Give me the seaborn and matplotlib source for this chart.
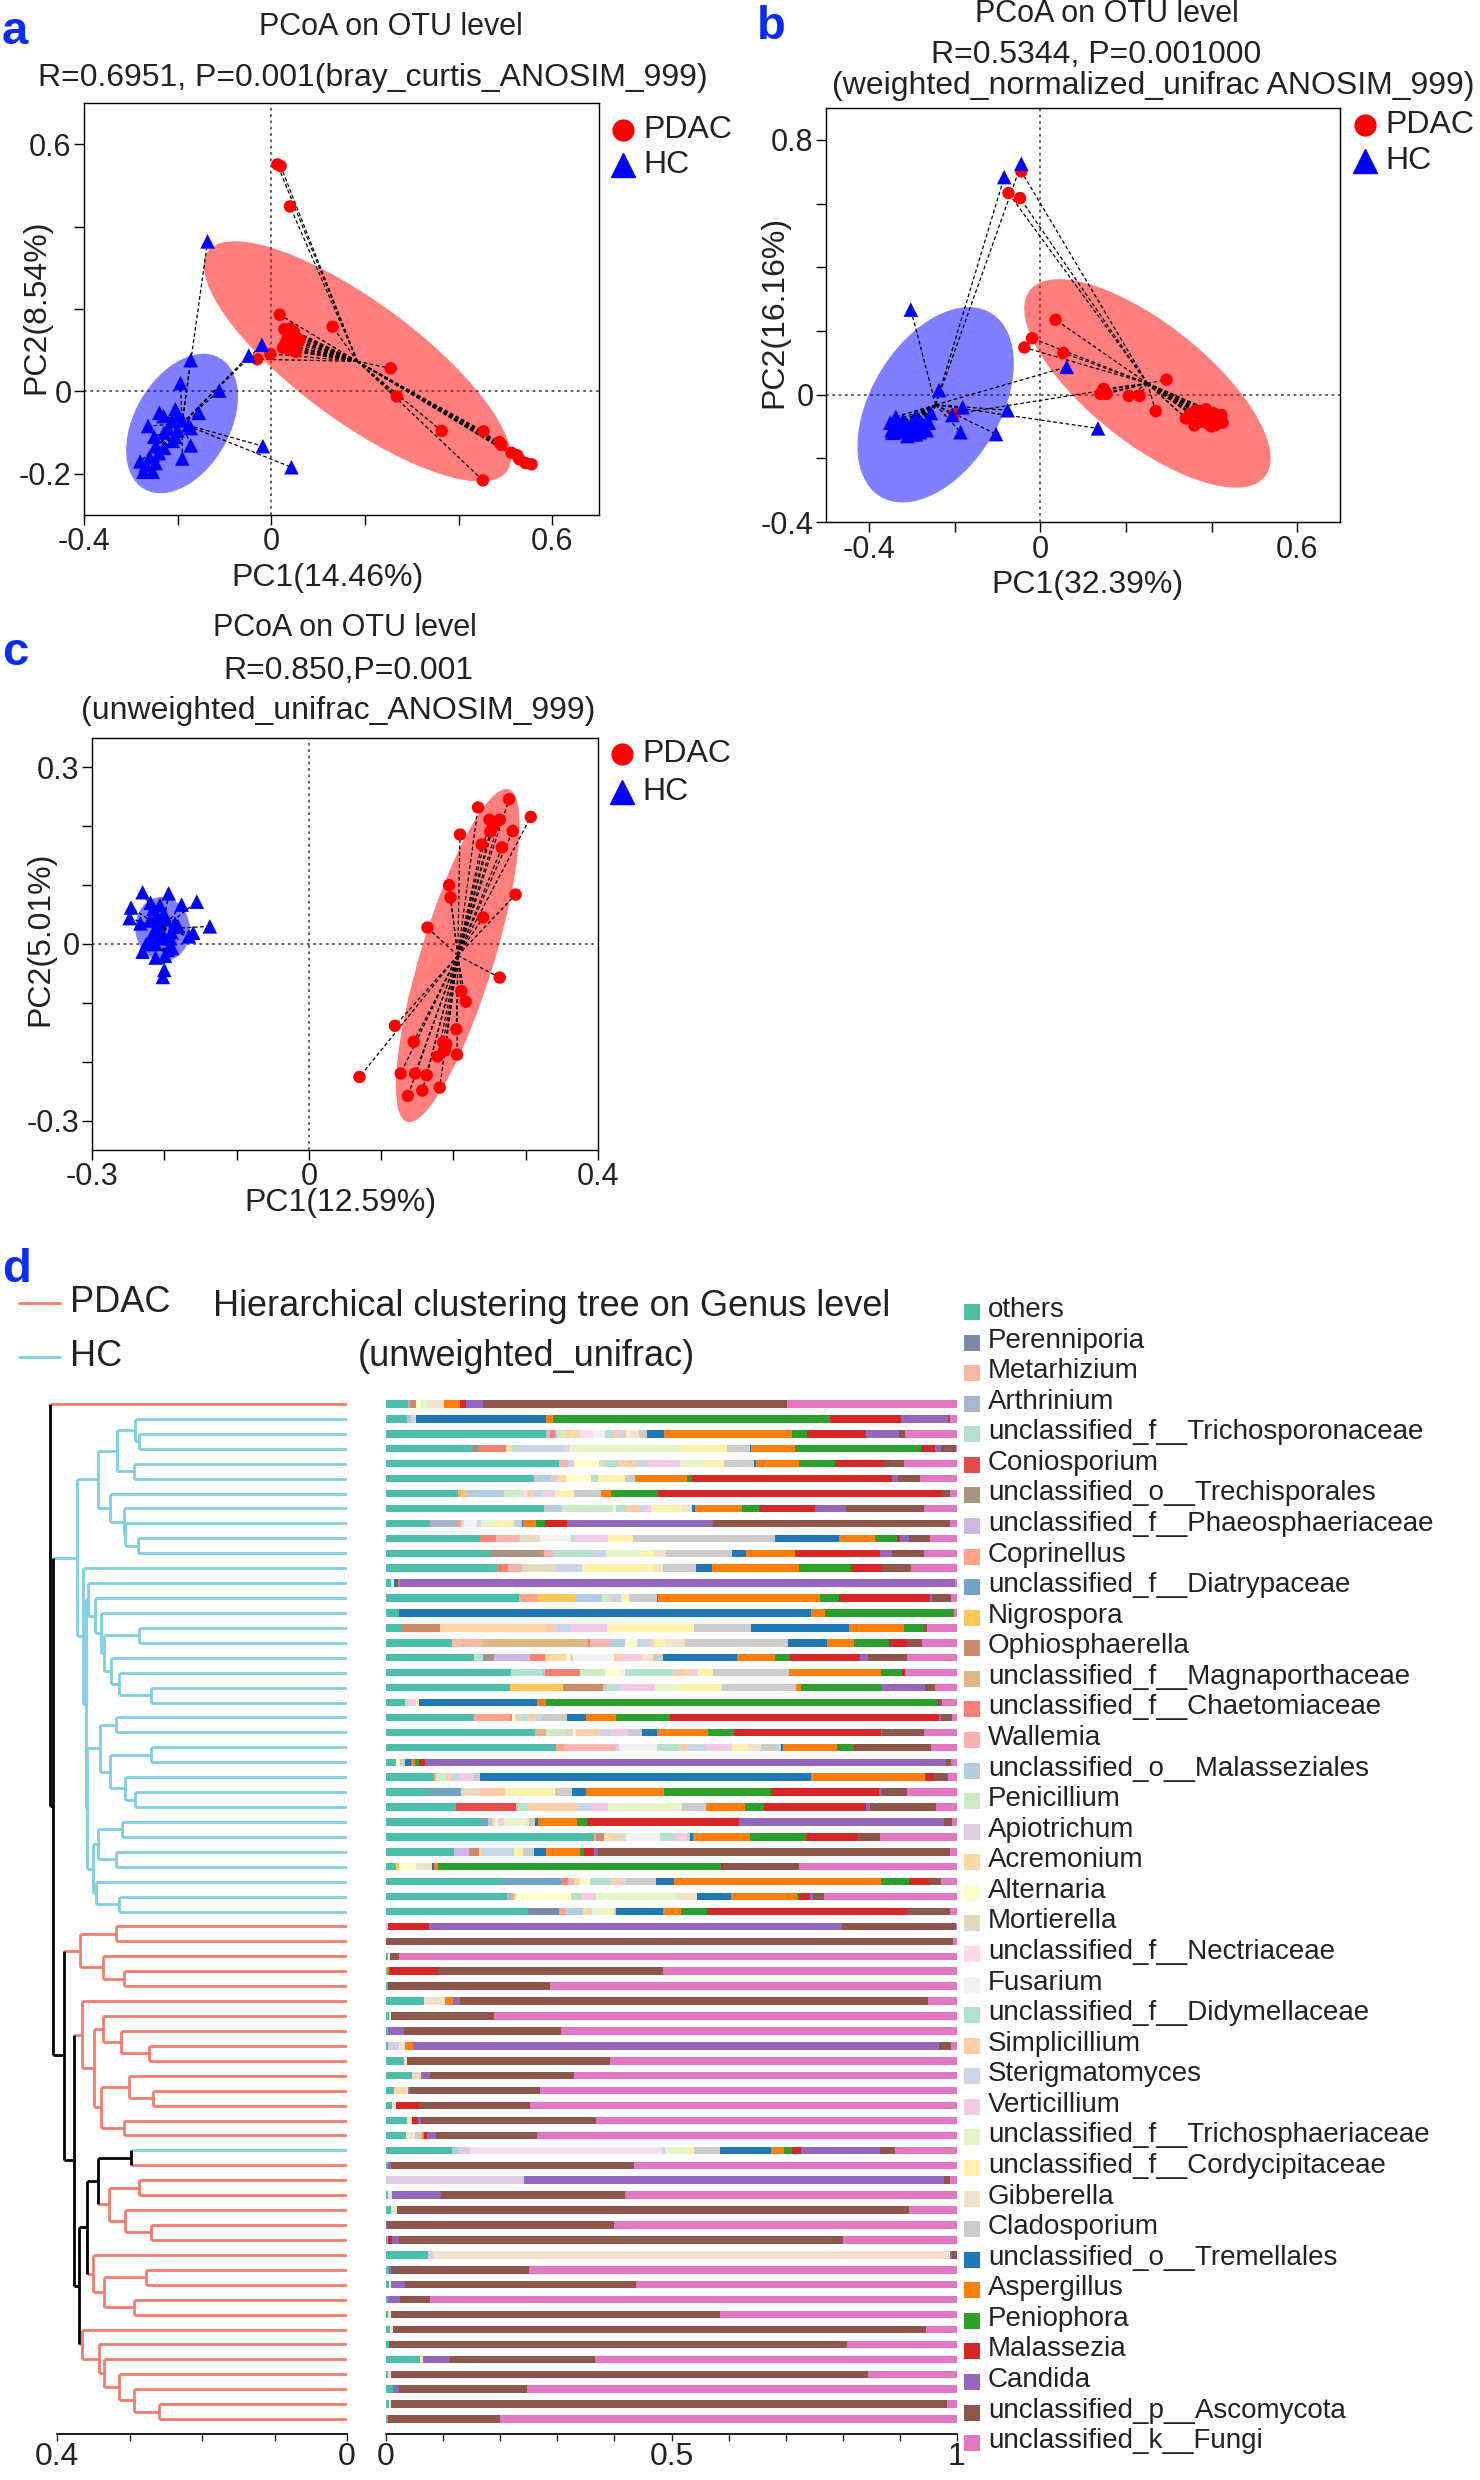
import numpy as np
import pandas as pd
import matplotlib
matplotlib.use("Agg")
import matplotlib.pyplot as plt
import seaborn as sns
from matplotlib.patches import Ellipse, Rectangle
from matplotlib.lines import Line2D

# ---------------- data: PCoA coordinates ----------------
a_pdac = [(0.013, 0.551), (0.02, 0.547), (0.04, 0.449), (0.018, 0.186), (0.131, 0.157),
          (0.028, 0.151), (0.04, 0.152), (0.047, 0.136), (0.033, 0.122), (0.055, 0.12),
          (0.025, 0.106), (0.04, 0.102), (0.053, 0.096), (-0.002, 0.091), (-0.03, 0.078),
          (0.255, 0.056), (0.268, -0.012), (0.364, -0.096), (0.453, -0.097), (0.487, -0.123),
          (0.492, -0.13), (0.513, -0.149), (0.525, -0.155), (0.53, -0.165), (0.543, -0.174),
          (0.556, -0.177), (0.452, -0.216), (0.035, 0.13), (0.045, 0.14), (0.05, 0.11),
          (0.03, 0.115), (0.06, 0.125), (0.038, 0.108), (0.048, 0.145)]
a_hc = [(-0.136, 0.364), (-0.172, 0.076), (-0.02, 0.113), (-0.048, 0.087), (-0.194, 0.02),
        (-0.111, 0.002), (-0.239, -0.052), (-0.205, -0.043), (-0.199, -0.058), (-0.155, -0.052),
        (-0.263, -0.084), (-0.212, -0.072), (-0.177, -0.082), (-0.172, -0.089), (-0.229, -0.1),
        (-0.205, -0.11), (-0.172, -0.131), (-0.247, -0.133), (-0.229, -0.137), (-0.19, -0.163),
        (-0.28, -0.17), (-0.268, -0.179), (-0.247, -0.174), (-0.273, -0.195), (-0.253, -0.195),
        (-0.018, -0.133), (0.043, -0.184), (-0.22, -0.09), (-0.21, -0.12), (-0.24, -0.15),
        (-0.26, -0.16), (-0.19, -0.07), (-0.23, -0.06), (-0.2, -0.095), (-0.25, -0.11)]

b_pdac = [(-0.044, 0.701), (-0.074, 0.633), (-0.047, 0.617), (0.036, 0.235), (-0.019, 0.177),
          (-0.037, 0.148), (0.054, 0.131), (0.295, 0.047), (0.148, 0.018), (0.141, 0.002),
          (0.155, 0.002), (0.207, -0.004), (0.232, -0.004), (0.27, -0.052), (-0.2, -0.061),
          (0.34, -0.075), (0.36, -0.097), (0.387, -0.046), (0.381, -0.07), (0.398, -0.082),
          (0.404, -0.058), (0.423, -0.064), (0.426, -0.088), (0.371, -0.063), (0.415, -0.075),
          (0.39, -0.09), (0.35, -0.06), (0.41, -0.095), (0.395, -0.065), (0.375, -0.085),
          (0.42, -0.07), (0.365, -0.05), (0.4, -0.1), (0.385, -0.06)]
b_hc = [(-0.044, 0.725), (-0.084, 0.683), (-0.302, 0.267), (0.062, 0.087), (-0.236, 0.014),
        (-0.076, -0.049), (0.135, -0.106), (-0.103, -0.124), (-0.186, -0.118), (-0.181, -0.04),
        (-0.205, -0.064), (-0.255, -0.058), (-0.26, -0.088), (-0.337, -0.07), (-0.35, -0.088),
        (-0.321, -0.088), (-0.291, -0.07), (-0.277, -0.088), (-0.347, -0.112), (-0.325, -0.118),
        (-0.303, -0.124), (-0.281, -0.118), (-0.265, -0.112), (-0.315, -0.1), (-0.294, -0.106),
        (-0.33, -0.095), (-0.31, -0.115), (-0.34, -0.1), (-0.285, -0.1), (-0.27, -0.1),
        (-0.32, -0.08), (-0.3, -0.09), (-0.345, -0.12), (-0.29, -0.125), (-0.31, -0.13)]

c_pdac = [(0.277, 0.246), (0.234, 0.232), (0.307, 0.216), (0.25, 0.211), (0.264, 0.211),
          (0.251, 0.191), (0.282, 0.192), (0.209, 0.186), (0.239, 0.169), (0.267, 0.164),
          (0.194, 0.1), (0.196, 0.079), (0.286, 0.084), (0.241, 0.045), (0.164, 0.028),
          (0.264, -0.057), (0.211, -0.08), (0.217, -0.098), (0.119, -0.139), (0.204, -0.145),
          (0.145, -0.166), (0.186, -0.167), (0.188, -0.181), (0.178, -0.191), (0.205, -0.188),
          (0.07, -0.226), (0.127, -0.22), (0.147, -0.22), (0.163, -0.223), (0.181, -0.244),
          (0.137, -0.258), (0.157, -0.249), (0.255, 0.2), (0.19, -0.17)]
c_hc = [(-0.23, 0.088), (-0.194, 0.086), (-0.246, 0.062), (-0.219, 0.07), (-0.206, 0.066),
        (-0.176, 0.067), (-0.155, 0.072), (-0.248, 0.044), (-0.233, 0.035), (-0.211, 0.047),
        (-0.198, 0.042), (-0.137, 0.03), (-0.181, 0.03), (-0.16, 0.019), (-0.166, 0.013),
        (-0.215, 0.02), (-0.202, 0.017), (-0.192, 0.01), (-0.22, 0.005), (-0.212, 0.0),
        (-0.23, -0.013), (-0.212, -0.023), (-0.199, -0.02), (-0.189, -0.007), (-0.2, -0.044),
        (-0.202, -0.056), (-0.225, 0.0), (-0.21, 0.03), (-0.2, 0.05), (-0.19, 0.02),
        (-0.22, 0.04), (-0.185, 0.035), (-0.205, 0.01), (-0.215, 0.06), (-0.195, -0.01)]

# ---------------- data: genus composition of each sample (top to bottom) ----------------
genus_codes = ["oth", "Per", "Met", "Art", "Tsp", "Con", "Tre", "Pha", "Cop", "Dia", "Nig", "Oph",
               "Mag", "Cha", "Wal", "Mal", "Pen", "Api", "Acr", "Alt", "Mor", "Nec", "Fus", "Did",
               "Sim", "Ste", "Ver", "Tsh", "Cor", "Gib", "Cla", "Trm", "Asp", "Pnp", "Mlz", "Can",
               "Asc", "Fun"]
genus_names = ["others", "Perenniporia", "Metarhizium", "Arthrinium",
               "unclassified_f__Trichosporonaceae", "Coniosporium", "unclassified_o__Trechisporales",
               "unclassified_f__Phaeosphaeriaceae", "Coprinellus", "unclassified_f__Diatrypaceae",
               "Nigrospora", "Ophiosphaerella", "unclassified_f__Magnaporthaceae",
               "unclassified_f__Chaetomiaceae", "Wallemia", "unclassified_o__Malasseziales",
               "Penicillium", "Apiotrichum", "Acremonium", "Alternaria", "Mortierella",
               "unclassified_f__Nectriaceae", "Fusarium", "unclassified_f__Didymellaceae",
               "Simplicillium", "Sterigmatomyces", "Verticillium", "unclassified_f__Trichosphaeriaceae",
               "unclassified_f__Cordycipitaceae", "Gibberella", "Cladosporium",
               "unclassified_o__Tremellales", "Aspergillus", "Peniophora", "Malassezia", "Candida",
               "unclassified_p__Ascomycota", "unclassified_k__Fungi"]
genus_colors = ["#4BBFAA", "#7A88AA", "#F5B9A5", "#AAB4CC", "#B3E2D4", "#E64B4C", "#A69482",
                "#CDB8E4", "#FFA48B", "#6FA5C3", "#FFC75A", "#C98D6B", "#DDB786", "#F98072",
                "#F9B4B0", "#B3CDE3", "#CDEBC6", "#DECCE4", "#FED9A6", "#FFFFCC", "#E5D8BD",
                "#FDDAEC", "#F2F2F2", "#B3E2CD", "#FDCDAC", "#CBD5E8", "#F4CAE4", "#E6F5C9",
                "#FFF2AE", "#F1E2CC", "#CCCCCC", "#1F77B4", "#FF7F0E", "#2CA02C", "#D62728",
                "#9467BD", "#8C564B", "#E377C2"]

bar_rows = [
    dict(oth=.038, Art=.003, Oph=.012, Alt=.008, Tsh=.01, Gib=.03, Asp=.028, Mlz=.01, Can=.03, Asc=.53, Fun=.297),
    dict(oth=.037, Pha=.006, Ste=.01, Trm=.226, Asp=.012, Pnp=.485, Mlz=.123, Can=.082, Asc=.003, Fun=.013),
    dict(oth=.283, Pha=.007, Mal=.004, Cha=.008, Pen=.01, Acr=.026, Mor=.005, Nec=.022, Fus=.022, Did=.015,
         Sim=.011, Ste=.01, Cor=.008, Gib=.015, Cla=.014, Trm=.03, Asp=.227, Pnp=.026, Mlz=.104, Can=.059,
         Asc=.01, Fun=.092),
    dict(oth=.149, Tre=.013, Cha=.047, Acr=.01, Did=.01, Ste=.082, Ver=.007, Tsh=.192, Cor=.081, Cla=.041,
         Trm=.002, Asp=.076, Pnp=.219, Mlz=.024, Can=.01, Asc=.026, Fun=.002),
    dict(oth=.30, Wal=.015, Api=.01, Alt=.043, Mor=.011, Did=.022, Sim=.033, Ste=.018, Ver=.057, Tsh=.039,
         Cor=.037, Cla=.051, Trm=.005, Asp=.074, Pnp=.062, Mlz=.084, Asc=.036, Fun=.091),
    dict(oth=.258, Met=.003, Mal=.026, Acr=.016, Alt=.043, Did=.013, Api=.01, Cor=.046, Cla=.018, Asp=.091,
         Pnp=.008, Mlz=.348, Can=.01, Asc=.039, Fun=.064),
    dict(oth=.126, Cop=.005, Nig=.008, Mal=.066, Pen=.035, Nec=.005, Sim=.013, Ste=.016, Ver=.021, Cor=.033,
         Cla=.047, Asp=.016, Pnp=.082, Mlz=.495, Asc=.013, Fun=.013),
    dict(oth=.274, Wal=.004, Mal=.028, Pen=.089, Fus=.005, Did=.016, Sim=.023, Ste=.01, Ver=.012, Cor=.054,
         Gib=.016, Trm=.005, Asp=.082, Pnp=.03, Mlz=.097, Can=.054, Asc=.135, Fun=.058),
    dict(oth=.076, Art=.05, Cop=.004, Pen=.005, Fus=.023, Ste=.007, Tsh=.03, Cor=.028, Cla=.013, Trm=.003,
         Asp=.021, Pnp=.016, Mlz=.038, Can=.255, Asc=.411, Fun=.013),
    dict(oth=.164, Cha=.028, Wal=.041, Mor=.036, Fus=.053, Ste=.007, Ver=.058, Cor=.044, Cla=.247, Trm=.113,
         Asp=.062, Pnp=.039, Mlz=.005, Can=.016, Asc=.036, Fun=.047),
    dict(oth=.183, Tre=.085, Oph=.008, Wal=.016, Did=.07, Ste=.023, Tsh=.061, Cor=.023, Gib=.022, Cla=.115,
         Trm=.024, Asp=.087, Mlz=.148, Can=.022, Asc=.055, Fun=.058),
    dict(oth=.195, Cha=.018, Wal=.026, Mor=.059, Ste=.046, Cor=.128, Gib=.013, Cla=.058, Trm=.028, Asp=.153,
         Pnp=.092, Mlz=.051, Asc=.053, Fun=.081),
    dict(oth=.009, Fus=.005, Trm=.007, Asp=.003, Can=.97, Fun=.003),
    dict(oth=.233, Cop=.033, Nig=.068, Mal=.045, Pen=.013, Mor=.005, Ste=.016, Cor=.013, Cla=.049, Trm=.003,
         Asp=.283, Pnp=.034, Mlz=.159, Can=.005, Asc=.032, Fun=.011),
    dict(oth=.022, Trm=.72, Asp=.024, Pnp=.226, Fun=.005),
    dict(oth=.027, Oph=.068, Acr=.183, Sim=.02, Ste=.026, Ver=.062, Cor=.153, Cla=.099, Trm=.171, Asp=.097,
         Pnp=.035, Asc=.004, Fun=.053),
    dict(oth=.114, Met=.053, Mag=.181, Cha=.005, Wal=.033, Mal=.027, Alt=.02, Ste=.023, Ver=.007, Cor=.021,
         Gib=.032, Cla=.179, Trm=.067, Asp=.046, Pnp=.061, Mlz=.031, Asc=.025, Fun=.061),
    dict(oth=.151, Tsp=.016, Tre=.018, Pha=.062, Cha=.026, Acr=.036, Alt=.006, Mor=.006, Fus=.07, Sim=.013,
         Ver=.036, Gib=.018, Cla=.018, Trm=.126, Asp=.066, Pnp=.026, Mlz=.12, Can=.014, Asc=.066, Fun=.086),
    dict(oth=.218, Tsp=.055, Pha=.004, Cha=.06, Pen=.045, Alt=.024, Fus=.01, Did=.083, Sim=.03, Ver=.015,
         Cor=.026, Cla=.131, Asp=.161, Pnp=.036, Mlz=.005, Fun=.091),
    dict(oth=.216, Nig=.094, Oph=.07, Wal=.005, Did=.011, Ste=.015, Ver=.059, Tsh=.039, Cor=.078, Cla=.13,
         Asp=.008, Pnp=.141, Can=.076, Asc=.018, Fun=.038),
    dict(oth=.034, Ste=.005, Ver=.013, Cor=.006, Trm=.205, Asp=.016, Pnp=.682, Asc=.008, Fun=.027),
    dict(oth=.152, Cop=.062, Cha=.003, Alt=.005, Mor=.013, Did=.01, Sim=.012, Ste=.012, Cla=.043, Trm=.033,
         Asp=.053, Pnp=.093, Mlz=.464, Can=.004, Asc=.018, Fun=.009),
    dict(oth=.26, Cop=.005, Mag=.014, Pen=.033, Mor=.013, Fus=.005, Sim=.043, Ste=.018, Ver=.031, Cla=.024,
         Trm=.026, Asp=.088, Pnp=.045, Mlz=.256, Can=.003, Asc=.072, Fun=.058),
    dict(oth=.298, Api=.005, Cop=.013, Wal=.091, Fus=.066, Did=.039, Sim=.014, Ste=.031, Ver=.047, Cor=.028,
         Gib=.023, Cla=.036, Trm=.003, Asp=.094, Pnp=.03, Mlz=.004, Asc=.13, Fun=.046),
    dict(oth=.017, Alt=.008, Cla=.008, Trm=.01, Asp=.007, Pnp=.008, Mlz=.01, Can=.909, Asc=.008, Fun=.011),
    dict(oth=.084, Cop=.004, Pen=.016, Acr=.01, Ste=.014, Ver=.024, Cla=.012, Trm=.577, Asp=.199, Pnp=.002,
         Mlz=.014, Asc=.025, Fun=.015),
    dict(oth=.076, Dia=.056, Mor=.033, Sim=.043, Cor=.089, Cla=.029, Trm=.025, Asp=.136, Pnp=.188, Mlz=.19,
         Can=.006, Asc=.043, Fun=.088),
    dict(oth=.122, Con=.105, Wal=.004, Did=.016, Sim=.089, Ste=.023, Ver=.03, Tsh=.13, Cla=.041, Asp=.069,
         Pnp=.033, Mlz=.179, Can=.006, Asc=.117, Fun=.036),
    dict(oth=.16, Dia=.016, Mal=.006, Alt=.005, Acr=.005, Ver=.01, Tsh=.037, Gib=.006, Cla=.011, Trm=.005,
         Asp=.067, Pnp=.018, Mlz=.26, Can=.353, Asc=.013, Fun=.009),
    dict(oth=.364, Oph=.014, Cop=.004, Acr=.013, Mor=.026, Fus=.058, Did=.021, Ste=.008, Ver=.02, Cla=.005,
         Trm=.005, Asp=.1, Pnp=.097, Mlz=.091, Asc=.039, Fun=.135),
    dict(oth=.117, Pha=.026, Oph=.017, Acr=.005, Ste=.057, Cor=.014, Cla=.02, Trm=.02, Asp=.059, Pnp=.007,
         Mlz=.018, Can=.007, Asc=.608, Fun=.012),
    dict(oth=.017, Nig=.005, Alt=.03, Gib=.028, Trm=.003, Asp=.008, Pnp=.494, Mlz=.005, Asc=.13, Fun=.276),
    dict(oth=.199, Dia=.102, Cha=.013, Wal=.01, Acr=.01, Alt=.017, Did=.036, Sim=.016, Ver=.011, Cla=.05,
         Trm=.031, Asp=.358, Pnp=.047, Mlz=.035, Asc=.021, Fun=.027),
    dict(oth=.209, Art=.008, Cop=.004, Alt=.095, Did=.018, Acr=.005, Ver=.025, Tsh=.139, Gib=.036, Trm=.059,
         Asp=.114, Pnp=.004, Mlz=.018, Can=.005, Asc=.02, Fun=.23),
    dict(oth=.247, Per=.054, Cop=.01, Mal=.032, Acr=.01, Ver=.005, Tsh=.025, Cor=.014, Cla=.004, Trm=.081,
         Asp=.031, Pnp=.046, Mlz=.348, Asc=.074, Fun=.013),
    dict(Mal=.003, Mlz=.072, Can=.723, Asc=.199, Fun=.002),
    dict(Asc=.99, Fun=.007),
    dict(oth=.003, Gib=.004, Asc=.016, Fun=.96),
    dict(oth=.003, Asp=.002, Mlz=.085, Asc=.394, Fun=.513),
    dict(oth=.004, Asc=.283, Fun=.711),
    dict(oth=.066, Gib=.037, Asp=.014, Can=.012, Asc=.813, Fun=.051),
    dict(oth=.005, Gib=.003, Asc=.181, Fun=.81),
    dict(oth=.003, Can=.028, Asc=.274, Fun=.69),
    dict(oth=.004, Api=.018, Gib=.012, Asp=.014, Can=.919, Asc=.022, Fun=.01),
    dict(oth=.032, Gib=.004, Asc=.355, Fun=.607),
    dict(oth=.045, Mor=.016, Can=.016, Asc=.251, Fun=.668),
    dict(oth=.014, Acr=.02, Gib=.005, Can=.003, Asc=.227, Fun=.728),
    dict(oth=.01, Gib=.008, Mlz=.039, Asc=.194, Fun=.741),
    dict(oth=.037, Gib=.008, Mlz=.011, Can=.004, Asc=.304, Fun=.628),
    dict(oth=.034, Gib=.016, Cla=.012, Asp=.004, Mlz=.004, Can=.016, Asc=.174, Fun=.724),
    dict(oth=.115, Mal=.012, Api=.02, Nec=.335, Ste=.004, Tsh=.036, Cor=.016, Cla=.045, Trm=.088, Asp=.023,
         Pnp=.015, Mlz=.015, Can=.137, Asc=.027, Fun=.108),
    dict(oth=.004, Can=.004, Asc=.424, Fun=.561),
    dict(Api=.242, Can=.736, Asc=.01, Fun=.012),
    dict(oth=.004, Gib=.006, Can=.087, Asc=.322, Fun=.58),
    dict(oth=.009, Gib=.011, Asc=.891, Fun=.084),
    dict(Can=.002, Asc=.396, Fun=.6),
    dict(oth=.004, Mlz=.007, Can=.011, Asc=.778, Fun=.2),
    dict(oth=.073, Api=.009, Gib=.9, Can=.005, Asc=.008),
    dict(oth=.005, Can=.004, Asc=.24, Fun=.748),
    dict(oth=.005, Gib=.003, Can=.025, Asc=.404, Fun=.561),
    dict(oth=.004, Can=.021, Asc=.051, Fun=.919),
    dict(oth=.004, Gib=.004, Asc=.574, Fun=.414),
    dict(oth=.007, Gib=.006, Asc=.93, Fun=.054),
    dict(oth=.005, Asc=.799, Fun=.192),
    dict(oth=.06, Gib=.005, Can=.047, Asc=.253, Fun=.632),
    dict(oth=.004, Gib=.004, Asc=.835, Fun=.155),
    dict(oth=.012, Can=.01, Asc=.224, Fun=.752),
    dict(oth=.005, Gib=.004, Asc=.971, Fun=.018),
    dict(oth=.004, Mlz=.002, Asc=.193, Fun=.8),
]

leaf_group = ["PDAC"] + ["HC"] * 34 + ["PDAC"] * 15 + ["HC"] + ["PDAC"] * 18

# clustering tree: (merge height, left, right); leaves are sample rows
hc_a = (0.343, (0.317, (0.293, 1, (0.287, 2, 3)), (0.294, 4, 5)),
        (0.327, 6, (0.308, 7, (0.306, 8, (0.288, 9, 10)))))
hc_e = (0.357, 12, (0.347, 13, (0.340, 14, (0.335, (0.287, 15, 16),
        (0.325, 17, (0.315, 18, (0.270, 19, 20)))))))
hc_f = (0.341, (0.319, 21, 22), (0.327, (0.271, 23, 24), (0.306, 25, (0.293, 26, 27))))
hc_g = (0.351, (0.343, (0.311, 28, 29), (0.319, 30, 31)), (0.346, 32, (0.315, 33, 34)))
hc_all = (0.373, hc_a, (0.364, 11, (0.3605, hc_e, (0.359, hc_f, hc_g))))
pd_p = (0.368, (0.318, 35, 36), (0.336, 37, (0.308, 38, 39)))
pd_q = (0.365, 40, (0.349, (0.336, 41, (0.312, 42, (0.273, 43, 44))),
        (0.340, (0.301, 45, (0.267, 46, 47)), (0.307, 48, 49))))
mix_r = (0.358, (0.344, (0.298, 50, 51), (0.328, (0.287, 52, 53), (0.306, 54, (0.271, 55, 56)))),
         (0.350, 57, (0.335, (0.277, 58, 59), (0.294, 60, 61))))
pd_s = (0.365, 62, (0.342, 63, (0.335, 64, (0.315, 65, (0.294, 66, (0.260, 67, 68))))))
tree = (0.410, 0, (0.405, hc_all, (0.390, pd_p, (0.376, pd_q, (0.370, mix_r, pd_s)))))

# ---------------- style ----------------
sns.set_theme(style="white")
plt.rcParams["font.family"] = ["Liberation Sans", "DejaVu Sans"]
TXT = "#222222"
W, H = 1480, 2480
fig = plt.figure(figsize=(14.8, 24.8), dpi=100)
fig.patch.set_facecolor("white")


def box(l, t, r, b):
    return [l / W, 1 - b / H, (r - l) / W, (b - t) / H]


def ftext(x, y, s, **kw):
    kw.setdefault("color", TXT)
    fig.text(x / W, 1 - y / H, s, **kw)


def fmt(v):
    return "0" if abs(v) < 1e-9 else f"{v:g}"


def pcoa_panel(rect, pdac, hc, xlim, ylim, xticks, yticks, xshow, yshow, nstd):
    ax = fig.add_axes(rect)
    df = pd.DataFrame(pdac + hc, columns=["PC1", "PC2"])
    df["group"] = ["PDAC"] * len(pdac) + ["HC"] * len(hc)
    ax.axvline(0, color="#555555", ls=(0, (1.5, 2)), lw=1.3, zorder=1)
    ax.axhline(0, color="#555555", ls=(0, (1.5, 2)), lw=1.3, zorder=1)
    for grp, col in [("PDAC", "red"), ("HC", "blue")]:
        pts = df.loc[df.group == grp, ["PC1", "PC2"]].to_numpy()
        cen = pts.mean(axis=0)
        vals, vecs = np.linalg.eigh(np.cov(pts.T))
        ang = np.degrees(np.arctan2(vecs[1, 1], vecs[0, 1]))
        ax.add_patch(Ellipse(cen, 2 * nstd * np.sqrt(vals[1]), 2 * nstd * np.sqrt(vals[0]),
                             angle=ang, fc=col, alpha=0.5, ec="none", zorder=2))
        for p in pts:
            ax.plot([cen[0], p[0]], [cen[1], p[1]], color="black", ls=(0, (3, 2)), lw=0.9, zorder=3)
    sns.scatterplot(data=df[df.group == "PDAC"], x="PC1", y="PC2", color="red", marker="o",
                    s=80, edgecolor="none", ax=ax, zorder=4, legend=False)
    sns.scatterplot(data=df[df.group == "HC"], x="PC1", y="PC2", color="blue", marker="^",
                    s=110, edgecolor="none", ax=ax, zorder=4, legend=False)
    ax.set_xlim(xlim)
    ax.set_ylim(ylim)
    ax.set_xticks(xticks)
    ax.set_yticks(yticks)
    ax.set_xticklabels([fmt(t) if any(abs(t - s) < 1e-9 for s in xshow) else "" for t in xticks])
    ax.set_yticklabels([fmt(t) if any(abs(t - s) < 1e-9 for s in yshow) else "" for t in yticks])
    ax.tick_params(bottom=True, left=True, direction="out", length=7, width=1, labelsize=22,
                   labelcolor=TXT, color="black", pad=2)
    for sp in ax.spines.values():
        sp.set_visible(True)
        sp.set_color("black")
        sp.set_linewidth(1.0)
    ax.set_xlabel("")
    ax.set_ylabel("")
    return ax


def panel_legend(x, y1, y2):
    fig.add_artist(Line2D([x / W], [1 - y1 / H], marker="o", color="red", ls="",
                          markersize=15, transform=fig.transFigure))
    fig.add_artist(Line2D([x / W], [1 - y2 / H], marker="^", color="blue", ls="",
                          markersize=17, transform=fig.transFigure))
    ftext(x + 20, y1, "PDAC", fontsize=23, va="center")
    ftext(x + 20, y2, "HC", fontsize=23, va="center")


NSTD = 1.55

# ---------------- panel a ----------------
pcoa_panel(box(84, 103, 599, 515), a_pdac, a_hc, (-0.4, 0.7), (-0.3, 0.7),
           [-0.4, -0.2, 0, 0.2, 0.4, 0.6], [-0.2, 0, 0.2, 0.4, 0.6], [-0.4, 0, 0.6], [-0.2, 0, 0.6], NSTD)
ftext(2, 32, "a", fontsize=34, fontweight="bold", color="#0A2CF5", va="center")
ftext(391, 27, "PCoA on OTU level", fontsize=22, ha="center", va="center")
ftext(373, 78, "R=0.6951, P=0.001(bray_curtis_ANOSIM_999)", fontsize=23, ha="center", va="center")
ftext(327, 578, "PC1(14.46%)", fontsize=23, ha="center", va="center")
ftext(36, 307, "PC2(8.54%)", fontsize=23, ha="center", va="center", rotation=90)
panel_legend(623, 130, 165)

# ---------------- panel b ----------------
pcoa_panel(box(826, 108, 1340, 522), b_pdac, b_hc, (-0.5, 0.7), (-0.4, 0.9),
           [-0.4, -0.2, 0, 0.2, 0.4, 0.6], [-0.4, -0.2, 0, 0.2, 0.4, 0.6, 0.8],
           [-0.4, 0, 0.6], [-0.4, 0, 0.8], NSTD)
ftext(757, 27, "b", fontsize=34, fontweight="bold", color="#0A2CF5", va="center")
ftext(1107, 14, "PCoA on OTU level", fontsize=22, ha="center", va="center")
ftext(1096, 55, "R=0.5344, P=0.001000", fontsize=23, ha="center", va="center")
ftext(1153, 86, "(weighted_normalized_unifrac ANOSIM_999)", fontsize=23, ha="center", va="center")
ftext(1087, 585, "PC1(32.39%)", fontsize=23, ha="center", va="center")
ftext(774, 312, "PC2(16.16%)", fontsize=23, ha="center", va="center", rotation=90)
panel_legend(1365, 125, 161)

# ---------------- panel c ----------------
pcoa_panel(box(92, 738, 598, 1150), c_pdac, c_hc, (-0.3, 0.4), (-0.35, 0.35),
           [-0.3, -0.2, -0.1, 0, 0.1, 0.2, 0.3, 0.4], [-0.3, -0.2, -0.1, 0, 0.1, 0.2, 0.3],
           [-0.3, 0, 0.4], [-0.3, 0, 0.3], NSTD)
ftext(2, 653, "c", fontsize=34, fontweight="bold", color="#0A2CF5", va="center")
ftext(345, 628, "PCoA on OTU level", fontsize=22, ha="center", va="center")
ftext(348, 671, "R=0.850,P=0.001", fontsize=23, ha="center", va="center")
ftext(338, 711, "(unweighted_unifrac_ANOSIM_999)", fontsize=23, ha="center", va="center")
ftext(340, 1203, "PC1(12.59%)", fontsize=23, ha="center", va="center")
ftext(40, 939, "PC2(5.01%)", fontsize=23, ha="center", va="center", rotation=90)
panel_legend(622, 754, 792)

# ---------------- panel d ----------------
PD_COL, HC_COL = "#F47C6C", "#7ECFE2"
ftext(2, 1270, "d", fontsize=34, fontweight="bold", color="#0A2CF5", va="center")
fig.add_artist(Line2D([19 / W, 60 / W], [1 - 1303 / H] * 2, color=PD_COL, lw=2, transform=fig.transFigure))
fig.add_artist(Line2D([19 / W, 60 / W], [1 - 1357 / H] * 2, color=HC_COL, lw=2, transform=fig.transFigure))
ftext(70, 1303, "PDAC", fontsize=26, va="center")
ftext(70, 1357, "HC", fontsize=26, va="center")
ftext(552, 1307, "Hierarchical clustering tree on Genus level", fontsize=26, ha="center", va="center")
ftext(526, 1357, "(unweighted_unifrac)", fontsize=26, ha="center", va="center")

n_rows = len(bar_rows)
ylim_d = (n_rows + 0.0, -0.6)
ax_top, ax_bot = 1395, 2434

# dendrogram
ax_t = fig.add_axes(box(42.5, ax_top, 347, ax_bot))


def group_color(groups):
    if groups == {"PDAC"}:
        return PD_COL
    if groups == {"HC"}:
        return HC_COL
    return "black"


def draw_tree(node):
    if isinstance(node, int):
        return float(node), 0.0, {leaf_group[node]}
    h, left, right = node
    y1, h1, g1 = draw_tree(left)
    y2, h2, g2 = draw_tree(right)
    both = g1 | g2
    ax_t.plot([h1, h], [y1, y1], color=group_color(g1), lw=2, solid_capstyle="butt")
    ax_t.plot([h2, h], [y2, y2], color=group_color(g2), lw=2, solid_capstyle="butt")
    ax_t.plot([h, h], [y1, y2], color=group_color(both), lw=2, solid_capstyle="butt")
    return (y1 + y2) / 2, h, both


draw_tree(tree)
ax_t.set_xlim(0.42, 0)
ax_t.set_ylim(ylim_d)
ax_t.set_xticks([0.4, 0.3, 0.2, 0.1, 0])
ax_t.set_xticklabels(["0.4", "", "", "", "0"])
ax_t.set_yticks([])
for s in ["left", "top", "right"]:
    ax_t.spines[s].set_visible(False)
ax_t.spines["bottom"].set_bounds(0, 0.4)
ax_t.spines["bottom"].set_color("black")
ax_t.tick_params(bottom=True, direction="out", length=5, width=1, labelsize=23, labelcolor=TXT, pad=1)
ax_t.patch.set_alpha(0)

# stacked bars
ax_b = fig.add_axes(box(386, ax_top, 957, ax_bot))
comp = pd.DataFrame(bar_rows).reindex(columns=genus_codes).fillna(0.0)
comp = comp.div(comp.sum(axis=1), axis=0)
left = np.zeros(n_rows)
rows = np.arange(n_rows)
for code, col in zip(genus_codes, genus_colors):
    w = comp[code].to_numpy()
    ax_b.barh(rows, w, left=left, height=0.5, color=col, edgecolor="none", linewidth=0)
    left += w
bar_ticks = np.round(np.arange(0, 1.01, 0.1), 1)
ax_b.set_xlim(0, 1)
ax_b.set_ylim(ylim_d)
ax_b.set_xticks(bar_ticks)
ax_b.set_xticklabels([{0.0: "0", 0.5: "0.5", 1.0: "1"}.get(t, "") for t in bar_ticks])
ax_b.set_yticks([])
for s in ["left", "top", "right"]:
    ax_b.spines[s].set_visible(False)
ax_b.spines["bottom"].set_color("black")
ax_b.tick_params(bottom=True, direction="out", length=5, width=1, labelsize=23, labelcolor=TXT, pad=1)

# genus legend
for i, (name, col) in enumerate(zip(genus_names, genus_colors)):
    yc = 1310 + i * 30.57
    fig.add_artist(Rectangle((964 / W, 1 - (yc + 10) / H), 16 / W, 16 / H, fc=col, ec="none",
                             transform=fig.transFigure))
    ftext(988, yc, name, fontsize=20, va="center")

fig.savefig("out.png", dpi=100, facecolor="white")
